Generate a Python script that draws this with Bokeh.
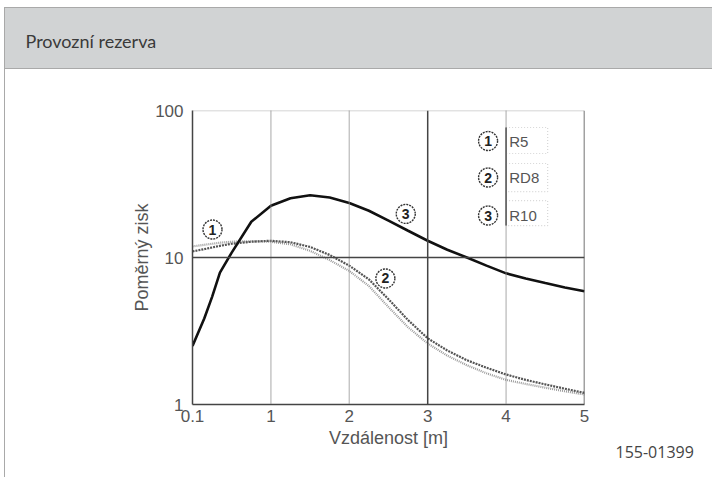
from bokeh.plotting import figure
from bokeh.models import Range1d, Span, BoxAnnotation, FixedTicker, Title
from bokeh.core.properties import value
from bokeh.embed import file_html
from bokeh.resources import INLINE

# ---------------- data ----------------
title_text = "Provozní rezerva"
x_label = "Vzdálenost [m]"
y_label = "Poměrný zisk"
figure_code = "155-01399"

x_ticks = [0, 1, 2, 3, 4, 5]
x_tick_labels = ["0.1", "1", "2", "3", "4", "5"]
y_ticks = [1, 10, 100]
y_tick_labels = ["1", "10", "100"]

# axis position (first position is labelled 0.1)
distance = [0, 0.15, 0.25, 0.35, 0.5, 0.75, 1.0, 1.25, 1.5, 1.75, 2.0, 2.25,
            2.5, 2.75, 3.0, 3.25, 3.5, 3.75, 4.0, 4.25, 4.5, 4.75, 5.0]
gain_r5 = [11.9, 12.2, 12.4, 12.6, 12.8, 12.9, 12.8, 12.3, 11.1, 9.6, 8.1, 6.4,
           4.6, 3.35, 2.6, 2.15, 1.85, 1.63, 1.47, 1.38, 1.30, 1.23, 1.17]
gain_rd8 = [11.0, 11.4, 11.7, 12.0, 12.4, 12.8, 13.0, 12.7, 11.8, 10.4, 8.8, 7.1,
            5.2, 3.75, 2.82, 2.33, 2.0, 1.78, 1.6, 1.47, 1.37, 1.28, 1.2]
gain_r10 = [2.5, 3.85, 5.4, 7.9, 10.8, 17.5, 22.5, 25.3, 26.5, 25.6, 23.5, 20.8,
            17.8, 15.2, 13.0, 11.3, 10.0, 8.8, 7.8, 7.2, 6.7, 6.25, 5.9]

series_names = ["R5", "RD8", "R10"]
series_numbers = ["1", "2", "3"]

# callout positions (axis units)
callout_x = [0.255, 2.46, 2.72]
callout_y = [15.5, 7.2, 19.8]
legend_marker_x = 3.77
legend_text_x = 4.04
legend_y = [62.0, 35.0, 19.3]
legend_box_x = (4.0, 4.53)
legend_box_y = [(51.0, 76.6), (28.1, 43.6), (16.5, 24.4)]

# ---------------- styles ----------------
BORDER = "#a9a9a9"
HEAD_BG = "#d1d3d4"
DARK = "#444444"
GRIDDOT = "#8c8c8c"
TXT = "#555555"

page_bg = (
    f"linear-gradient({BORDER},{BORDER}) 4px 7px / 1px 470px no-repeat, "
    f"linear-gradient({BORDER},{BORDER}) 4px 7px / 708px 1px no-repeat, "
    f"linear-gradient({BORDER},{BORDER}) 4px 68px / 708px 1px no-repeat, "
    f"linear-gradient({HEAD_BG},{HEAD_BG}) 4px 7px / 708px 62px no-repeat, white"
)

p = figure(frame_width=392, frame_height=294,
           min_border_left=192, min_border_right=128,
           min_border_top=110, min_border_bottom=73,
           x_range=Range1d(0, 5), y_range=Range1d(1, 100), y_axis_type="log",
           toolbar_location=None, output_backend="svg",
           outline_line_color=None, background_fill_color="white",
           border_fill_color=None, styles={"background": page_bg})
p.grid.visible = False

# invisible spacer between frame and header title
p.add_layout(Title(text=" ", text_font_size="1px", standoff=56), "above")

# header title
p.title.text = title_text
p.title.text_font = "Lato"
p.title.text_font_size = "18px"
p.title.text_font_style = "normal"
p.title.text_color = "#3a3a3a"
p.title.align = "left"
p.title.vertical_align = "bottom"
p.title.offset = -167
p.title.standoff = 0

for ax in (p.xaxis[0], p.yaxis[0]):
    ax.axis_line_color = DARK
    ax.axis_line_width = 1.5
    ax.major_tick_in = 0
    ax.major_tick_out = 0
    ax.minor_tick_in = 0
    ax.minor_tick_out = 0
    ax.major_label_text_font = "Liberation Sans"
    ax.major_label_text_font_size = "17px"
    ax.major_label_text_color = TXT
    ax.axis_label_text_font = "Liberation Sans"
    ax.axis_label_text_font_size = "18px"
    ax.axis_label_text_font_style = "normal"
    ax.axis_label_text_color = TXT

p.xaxis.ticker = FixedTicker(ticks=x_ticks)
p.xaxis.major_label_overrides = {t: l for t, l in zip(x_ticks, x_tick_labels)}
p.xaxis.major_label_standoff = 5
p.xaxis.axis_label = x_label
p.xaxis.axis_label_standoff = 3

p.yaxis.ticker = FixedTicker(ticks=y_ticks)
p.yaxis.major_label_overrides = {t: l for t, l in zip(y_ticks, y_tick_labels)}
p.yaxis.major_label_standoff = 9
p.yaxis.axis_label = y_label
p.yaxis.axis_label_standoff = 0

# figure code below the chart
p.add_layout(Title(text=figure_code, text_font="Open Sans", text_font_size="16px",
                   text_font_style="normal", text_color="#444444", align="left",
                   offset=423, standoff=-15), "below")

# grid lines / borders
for xv in [1, 2, 4]:
    p.add_layout(Span(location=xv, dimension="height", line_color=GRIDDOT,
                      line_width=1.5, line_dash="1 1"))
p.add_layout(Span(location=3, dimension="height", line_color=DARK, line_width=1.5))
p.add_layout(Span(location=5, dimension="height", line_color=DARK, line_width=1.5))
p.add_layout(Span(location=10, dimension="width", line_color=DARK, line_width=1.5))
p.add_layout(Span(location=100, dimension="width", line_color=GRIDDOT,
                  line_width=1.5, line_dash="1 1"))

# curves
p.line(distance, gain_r5, line_color="#9a9a9a", line_width=2.2, line_dash="1 1")
p.line(distance, gain_rd8, line_color="#555555", line_width=2.2, line_dash="2 1")
p.line(distance, gain_r10, line_color="#111111", line_width=2.6)

# callouts on curves
p.scatter(callout_x, callout_y, marker="circle", size=19, fill_color="white",
          line_color="#333333", line_width=1.4, line_dash="2 1")
p.text(callout_x, callout_y, text=series_numbers, text_font=value("Liberation Sans"),
       text_font_size="14px", text_font_style="bold", text_color="#222222",
       text_align="center", text_baseline="middle")

# legend
for (b, t) in legend_box_y:
    p.add_layout(BoxAnnotation(left=legend_box_x[0], right=legend_box_x[1], bottom=b, top=t,
                               fill_alpha=0, line_color="#777777", line_width=1.2,
                               line_dash="1 2"))
p.segment(x0=[legend_box_x[0]], y0=[legend_box_y[2][0]], x1=[legend_box_x[0]],
          y1=[legend_box_y[0][1]], line_color="#333333", line_width=1.5)
p.scatter([legend_marker_x] * 3, legend_y, marker="circle", size=19, fill_color="white",
          line_color="#333333", line_width=1.4, line_dash="2 1")
p.text([legend_marker_x] * 3, legend_y, text=series_numbers, text_font=value("Liberation Sans"),
       text_font_size="14px", text_font_style="bold", text_color="#222222",
       text_align="center", text_baseline="middle")
p.text([legend_text_x] * 3, legend_y, text=series_names, text_font=value("Liberation Sans"),
       text_font_size="15px", text_color=TXT, text_align="left", text_baseline="middle")

open("out.html", "w").write(file_html(p, INLINE))
